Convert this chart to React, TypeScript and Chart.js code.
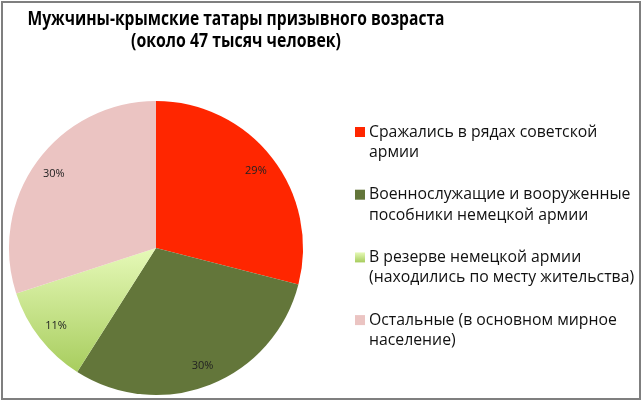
import React, { useEffect, useRef } from 'react';
import { Chart, registerables } from 'chart.js';

Chart.register(...registerables);

const titleLines = ['Мужчины-крымские татары призывного возраста', '(около 47 тысяч человек)'];

const categories = [
    ['Сражались в рядах советской', 'армии'],
    ['Военнослужащие и вооруженные', 'пособники немецкой армии'],
    ['В резерве немецкой армии', '(находились по месту жительства)'],
    ['Остальные (в основном мирное', 'население)'],
];

const shares = [29, 30, 11, 30];

const sliceColors = ['#ff2600', '#63763a', 'gradient', '#ebc4c2'];

const FONT = '"Open Sans", "DejaVu Sans", sans-serif';

const lightGreen = (ctx: CanvasRenderingContext2D, top: number, bottom: number) => {
    const g = ctx.createLinearGradient(0, top, 0, bottom);
    g.addColorStop(0, '#e6f9b8');
    g.addColorStop(1, '#a6cc5c');
    return g;
};

// title sits left of center like on the original slide; squeezed a bit (Calibri is narrower)
const titlePlugin = {
    id: 'slideTitle',
    afterDraw: (chart: any) => {
        const ctx = chart.ctx;
        ctx.save();
        ctx.fillStyle = '#000';
        ctx.font = `bold 19px ${FONT}`;
        ctx.textAlign = 'center';
        ctx.textBaseline = 'middle';
        ctx.fillText(titleLines[0], 236, 20, 417);
        ctx.fillText(titleLines[1], 236, 42, 210);
        ctx.restore();
    },
};

const pctPlugin = {
    id: 'pctLabels',
    afterDatasetsDraw: (chart: any) => {
        const ctx = chart.ctx;
        const meta = chart.getDatasetMeta(0);
        ctx.save();
        ctx.font = `11px ${FONT}`;
        ctx.fillStyle = '#222';
        ctx.textAlign = 'center';
        ctx.textBaseline = 'middle';
        meta.data.forEach((arc: any, i: number) => {
            const { x, y, startAngle, endAngle, outerRadius } = arc.getProps(['x', 'y', 'startAngle', 'endAngle', 'outerRadius'], true);
            const mid = (startAngle + endAngle) / 2;
            const r = outerRadius * 0.86;
            ctx.fillText(`${shares[i]}%`, x + Math.cos(mid) * r, y + Math.sin(mid) * r);
        });
        ctx.restore();
    },
};

const legendPlugin = {
    id: 'sideLegend',
    afterDraw: (chart: any) => {
        const ctx = chart.ctx;
        ctx.save();
        ctx.font = `15.8px ${FONT}`;
        ctx.textBaseline = 'middle';
        ctx.textAlign = 'left';
        categories.forEach((lines, i) => {
            const y0 = 132 + i * 62.7;
            ctx.fillStyle = sliceColors[i] === 'gradient' ? lightGreen(ctx, y0 - 5, y0 + 5) : sliceColors[i];
            ctx.fillRect(355, y0 - 5, 10, 10);
            ctx.fillStyle = '#111';
            lines.forEach((t, j) => ctx.fillText(t, 369, y0 + j * 20.5));
        });
        ctx.restore();
    },
};

const App: React.FC = () => {
    const chartRef = useRef<HTMLCanvasElement | null>(null);
    const chartInstance = useRef<Chart | null>(null);

    useEffect(() => {
        document.body.style.margin = '0';
        if (chartRef.current) {
            if (chartInstance.current) chartInstance.current.destroy();
            chartInstance.current = new Chart(chartRef.current, {
                type: 'pie',
                data: {
                    labels: categories,
                    datasets: [{
                        data: shares,
                        backgroundColor: (c: any) => {
                            const col = sliceColors[c.dataIndex];
                            if (col !== 'gradient') return col;
                            const area = c.chart.chartArea;
                            if (!area) return '#d5ef9f';
                            return lightGreen(c.chart.ctx, (area.top + area.bottom) / 2, area.bottom - 20);
                        },
                        borderWidth: 0,
                    }],
                },
                options: {
                    animation: false,
                    responsive: false,
                    layout: { padding: { left: 9, top: 101, right: 340, bottom: 7 } },
                    plugins: { legend: { display: false }, title: { display: false }, tooltip: { enabled: false } },
                },
                plugins: [titlePlugin, pctPlugin, legendPlugin],
            });
        }
        return () => { if (chartInstance.current) chartInstance.current.destroy(); };
    }, []);

    return (
        <div style={{ position: 'relative', width: 643, height: 402, background: '#fff' }}>
            <canvas ref={chartRef} width={643} height={402} style={{ position: 'absolute', left: 0, top: 0 }}></canvas>
            <div style={{ position: 'absolute', left: 1, top: 1, width: 640, height: 399, border: '2px solid #7f7f7f', boxSizing: 'border-box', pointerEvents: 'none' }}></div>
        </div>
    );
};

export default App;
